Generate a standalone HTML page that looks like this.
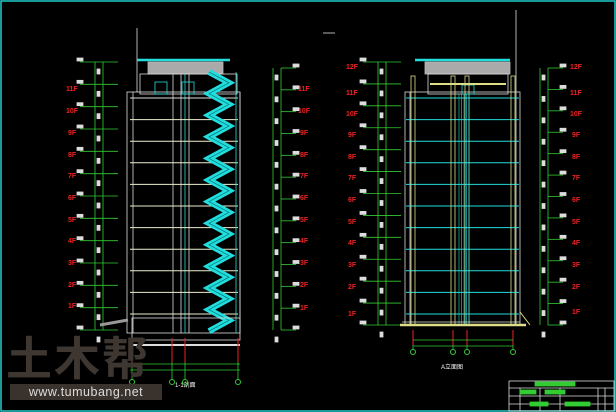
<!DOCTYPE html><html><head><meta charset="utf-8"><style>
html,body{margin:0;padding:0;background:#000;width:616px;height:412px;overflow:hidden}
svg{position:absolute;left:0;top:0}
.w{position:absolute;font-family:"Liberation Sans","Noto Sans CJK SC",sans-serif}
</style></head><body>
<svg id="s" width="616" height="412" viewBox="0 0 616 412">
<rect x="1" y="1" width="614" height="410" fill="none" stroke="#2cc" stroke-width="1.5"/>
<g font-family="Liberation Sans,sans-serif" font-size="7" font-weight="bold" fill="#e22">
<text x="66" y="91">11F</text><text x="66" y="113">10F</text><text x="68" y="135">9F</text><text x="68" y="157">8F</text><text x="68" y="178">7F</text><text x="68" y="200">6F</text><text x="68" y="222">5F</text><text x="68" y="243">4F</text><text x="68" y="265">3F</text><text x="68" y="287">2F</text><text x="68" y="308">1F</text>
<text x="298" y="91">11F</text><text x="298" y="113">10F</text><text x="300" y="135">9F</text><text x="300" y="157">8F</text><text x="300" y="178">7F</text><text x="300" y="200">6F</text><text x="300" y="222">5F</text><text x="300" y="243">4F</text><text x="300" y="265">3F</text><text x="300" y="287">2F</text><text x="300" y="310">1F</text>
<text x="346" y="69">12F</text><text x="346" y="95">11F</text><text x="346" y="116">10F</text><text x="348" y="137">9F</text><text x="348" y="159">8F</text><text x="348" y="180">7F</text><text x="348" y="202">6F</text><text x="348" y="224">5F</text><text x="348" y="245">4F</text><text x="348" y="267">3F</text><text x="348" y="289">2F</text><text x="348" y="316">1F</text>
<text x="570" y="69">12F</text><text x="570" y="95">11F</text><text x="570" y="116">10F</text><text x="572" y="137">9F</text><text x="572" y="159">8F</text><text x="572" y="180">7F</text><text x="572" y="202">6F</text><text x="572" y="224">5F</text><text x="572" y="245">4F</text><text x="572" y="267">3F</text><text x="572" y="289">2F</text><text x="572" y="314">1F</text>
</g>
<g font-family="Liberation Sans,Noto Sans CJK SC,sans-serif" font-size="6" fill="#fff">
<text x="175" y="387">1-1剖面</text><text x="441" y="369">A立面图</text>
</g>
<g id="g"></g>
</svg>
<div class="w" style="left:6px;top:334px;font-size:46px;font-weight:bold;color:#3e3630;letter-spacing:2px;line-height:50px">土木帮</div>
<div class="w" style="left:10px;top:384px;width:152px;height:16px;background:#3a322c;color:#ddd;font-size:12.5px;line-height:16px;text-align:center;letter-spacing:0.5px">www.tumubang.net</div>
<script>
var g=document.getElementById('g'),h='';
function L(x1,y1,x2,y2,c,w){h+='<line x1="'+x1+'" y1="'+y1+'" x2="'+x2+'" y2="'+y2+'" stroke="'+c+'" stroke-width="'+(w||0.8)+'"/>';}
function R(x,y,w,hh,c,f){h+='<rect x="'+x+'" y="'+y+'" width="'+w+'" height="'+hh+'" fill="'+(f||'none')+'" stroke="'+c+'" stroke-width="0.8"/>';}
var G='#3c3',W='#ddd',C='#2dd',Y='#dd8';
function stack(x,y0,y1,n,dir){L(x,y0,x,y1,G);L(x+8,y0,x+8,y1,G);
 for(var i=0;i<n;i++){var y=y0+i*(y1-y0)/(n-1);L(x-15*(dir>0?1:0)-(dir<0?-8:0),y,x+ (dir>0?23:8+15),y,G);
 R(dir>0?x-18:x+20,y-4,6,3,W,W);R(x+2,y+7,3,5,W,W);}}
stack(95,62,330,13,1);stack(273,68,330,13,-1);stack(378,62,325,13,1);stack(540,68,325,13,-1);
L(130,345,240,345,W,2);
R(127,92,113,241,W);L(133,92,133,333,W);L(173,72,173,333,W);L(181,72,181,333,W);L(185,72,185,333,C);L(189,72,189,333,W);
L(137,28,137,92,W);R(148,62,75,12,'#bbb','#aaa');L(137,60,230,60,C,2.5);R(140,74,97,20,W);
R(155,82,12,12,C);R(182,82,12,12,C);
for(var i=0;i<11;i++){var y=98+i*21.6;L(130,y,238,y,i==0?W:'#eec',1);}
var p='';for(var i=0;i<=24;i++){var y=72+i*10.8;p+=((i%2)?229:209)+','+y+' ';}
h+='<polyline points="'+p+'" fill="none" stroke="'+C+'" stroke-width="6" stroke-linejoin="miter"/>';
h+='<polyline points="'+p+'" fill="none" stroke="#066" stroke-width="0.6"/>';
L(236,72,236,333,C);L(240,92,240,333,W);R(132,318,108,22,W);L(100,325,128,320,'#999',3);
[132,172,185,238].forEach(function(x){L(x,338,x,362,'#e22',1);h+='<circle cx="'+x+'" cy="382" r="2.5" fill="none" stroke="'+G+'"/>';L(x,362,x,379,G);});
L(130,364,240,364,G);L(130,370,240,370,G);
R(405,92,115,233,W);L(410,92,410,325,W);L(516,92,516,325,W);
L(516,10,516,92,W);R(425,62,85,12,'#bbb','#aaa');L(415,60,510,60,C,2.5);R(428,74,80,20,W);
R(462,85,12,9,C);L(430,84,506,84,Y,2);
for(var i=0;i<11;i++){var y=98+i*21.6;L(406,y,519,y,C,1);}
[413,453,467,513].forEach(function(x){R(x-2,76,4,249,Y);});
for(var k=0;k<5;k++)L(459+k*2.5,94,459+k*2.5,325,C,0.6);
L(400,325,526,325,Y,2.5);L(402,322,520,322,W);L(520,312,530,325,Y,1);
[413,453,467,513].forEach(function(x){L(x,330,x,345,'#e22',1);h+='<circle cx="'+x+'" cy="352" r="2.5" fill="none" stroke="'+G+'"/>';L(x,345,x,350,G);});
L(413,340,513,340,G);L(413,346,513,346,G);
L(323,33,335,33,W);
R(509,381,105,30,W);L(509,388,614,388,W);L(509,396,614,396,W);L(509,404,614,404,W);
[520,540,560,598,605].forEach(function(x){L(x,388,x,411,W);});
R(520,390,16,4,G,G);R(545,390,20,4,G,G);R(530,402,18,4,G,G);R(565,402,25,4,G,G);R(535,382,40,4,G,G);
g.innerHTML=h;
</script>
</body></html>
